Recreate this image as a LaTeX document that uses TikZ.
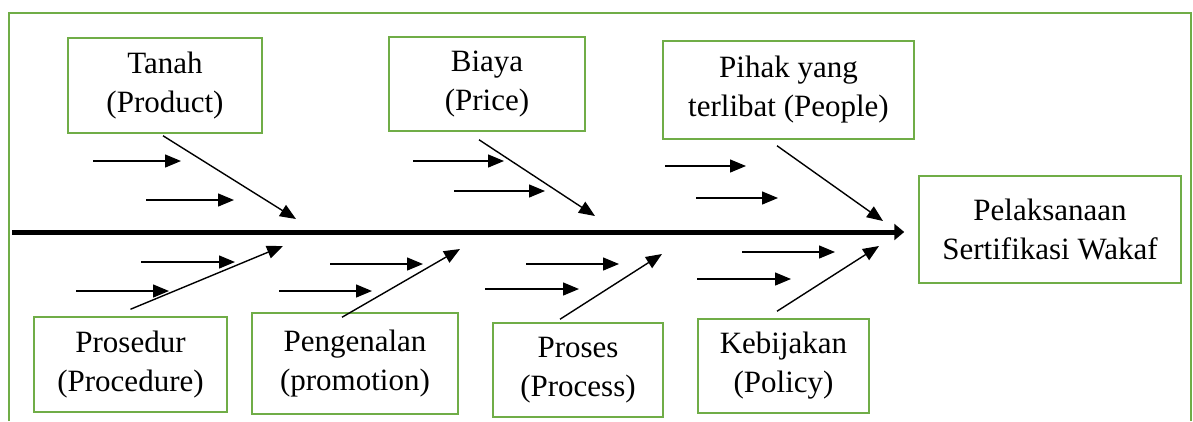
\documentclass[tikz,border=0pt]{standalone}
\usepackage{fontspec}
\setmainfont{Liberation Serif}
\usetikzlibrary{arrows.meta}
\definecolor{boxgreen}{RGB}{112,173,71}

\begin{document}
\begin{tikzpicture}[x=1pt, y=-1pt,
  >={Triangle[length=16pt,width=13pt]},
  kotak/.style={draw=boxgreen, line width=1.5pt, rectangle, align=center, inner sep=0pt,
    font=\fontsize{31}{39}\selectfont},
  panah/.style={->, line width=1.4pt}]
\useasboundingbox (0,0) rectangle (1193,421);
\draw[boxgreen, line width=2pt] (9,421) -- (9,13) -- (1191,13) -- (1191,421);

% kotak sebab
\node[kotak, minimum width=194pt, minimum height=95pt] (tanah) at (165,85.5) {Tanah\\(Product)};
\node[kotak, minimum width=196pt, minimum height=94pt] (biaya) at (487,84) {Biaya\\(Price)};
\node[kotak, minimum width=251pt, minimum height=98pt] (pihak) at (788.5,90) {Pihak yang\\terlibat (People)};
\node[kotak, minimum width=193pt, minimum height=95pt] (prosedur) at (130.5,364.5) {Prosedur\\(Procedure)};
\node[kotak, minimum width=206pt, minimum height=101pt] (promosi) at (355,363.5) {Pengenalan\\(promotion)};
\node[kotak, minimum width=170pt, minimum height=94pt] (proses) at (578,370) {Proses\\(Process)};
\node[kotak, minimum width=171pt, minimum height=94pt] (kebijakan) at (783.5,366) {Kebijakan\\(Policy)};
% kotak akibat
\node[kotak, minimum width=262pt, minimum height=107pt] (hasil) at (1050,229.5) {Pelaksanaan\\Sertifikasi Wakaf};

% tulang utama
\coordinate (ekor) at (12,232);
\draw[line width=5pt, -{Triangle[length=10pt,width=16pt]}, shorten >=14pt] (ekor) -- (ekor -| hasil.west);

% tulang sebab
\coordinate (u1) at (296,219);
\coordinate (u2) at (595,216);
\coordinate (u3) at (883,221);
\coordinate (u4) at (283,246);
\coordinate (u5) at (460,249);
\coordinate (u6) at (662,254);
\coordinate (u7) at (879,246);
\draw[panah] ([xshift=-2pt,yshift=-2pt]tanah.south) -- (u1);
\draw[panah] ([xshift=-8pt,yshift=-8pt]biaya.south) -- (u2);
\draw[panah] ([xshift=-11.5pt,yshift=-6pt]pihak.south) -- (u3);
\draw[panah] ([yshift=7pt]prosedur.north) -- (u4);
\draw[panah] ([xshift=-13pt,yshift=-5pt]promosi.north) -- (u5);
\draw[panah] ([xshift=-18pt,yshift=3pt]proses.north) -- (u6);
\draw[panah] ([xshift=-6.5pt,yshift=7pt]kebijakan.north) -- (u7);

% panah kecil
\foreach \i/\y/\xa/\xb in {1/161/93/181, 2/200/146/234, 3/161/413/504, 4/191/454/545,
    5/166/665/746, 6/198/696/778, 7/262/141/235, 8/291/76/169, 9/264/330/423,
    10/291/279/372, 11/264/526/619, 12/289/485/579, 13/252/742/835, 14/279/697/791} {
  \coordinate (a\i) at (\xa,\y);
  \coordinate (b\i) at (\xb,\y);
  \draw[panah] (a\i) -- (b\i);
}
\end{tikzpicture}
\end{document}
